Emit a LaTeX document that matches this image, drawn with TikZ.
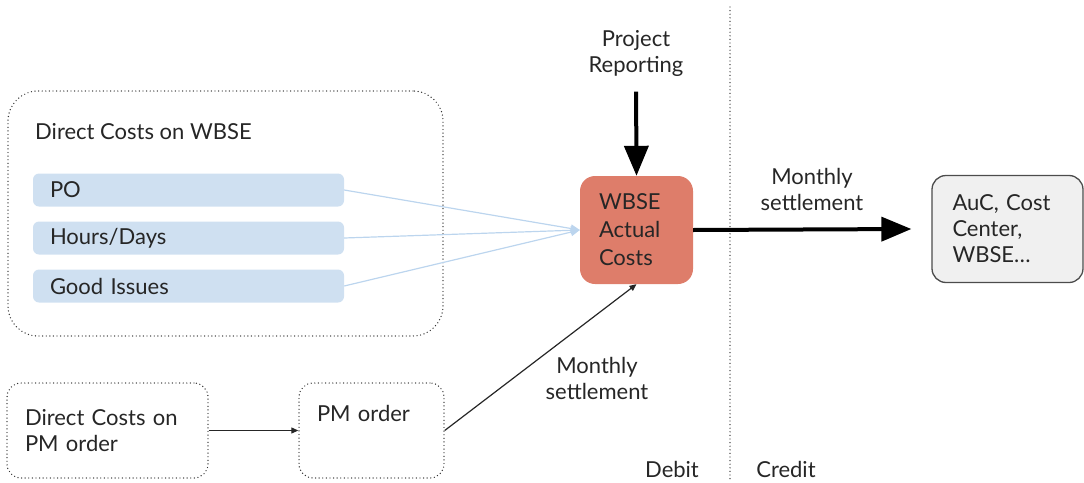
\documentclass[tikz,border=0pt]{standalone}
\usepackage{fontspec}
\setmainfont{Lato}
\usetikzlibrary{arrows.meta}

\definecolor{itemblue}{HTML}{CFE0F1}
\definecolor{flowblue}{HTML}{BCD5EE}
\definecolor{costred}{HTML}{DE7D6A}
\definecolor{targetgray}{HTML}{F0F0F0}

\begin{document}
\begin{tikzpicture}[
    x=1pt, y=-1pt,
    font=\fontsize{22}{26}\selectfont, text=black!85,
    group box/.style={draw=black!80, dash pattern=on 0pt off 3.6pt, line cap=round, line width=1.4pt, rounded corners=#1},
    group box/.default=14pt,
    cost item/.style={fill=itemblue, rounded corners=6pt, minimum width=311pt, minimum height=33pt,
        text width=277pt, inner xsep=17pt, align=left},
    actual costs/.style={fill=costred, rounded corners=15pt, minimum width=113pt, minimum height=108pt,
        text width=75pt, inner xsep=19pt, align=left, font=\fontsize{22}{28}\selectfont},
    target box/.style={fill=targetgray, draw=black!70, line width=1.3pt, rounded corners=14pt,
        minimum width=151pt, minimum height=107pt, text width=110pt, inner xsep=20pt, align=left},
    big arrow/.style={-{Triangle[length=30pt, width=24pt]}, line width=4pt, black},
    thin arrow/.style={-{Triangle[length=7pt, width=6pt]}, line width=1.2pt, black!85},
    blue arrow/.style={-{Triangle[length=9pt, width=8pt]}, line width=1.2pt, flowblue},
    divider/.style={draw=black!80, dash pattern=on 0pt off 3.6pt, line cap=round, line width=1.4pt}
]
\useasboundingbox (0,0) rectangle (1084,482);

% Direct costs on WBSE
\node[group box=30pt, minimum width=435pt, minimum height=245pt] (wbsegroup) at (225.5,213.5) {};
\node[anchor=mid west, inner sep=0pt] (wbsetitle) at (35,137) {Direct Costs on WBSE};
\node[cost item] (po) at (188.5,190) {PO};
\node[cost item] (hours) at (188.5,238) {Hours/Days};
\node[cost item] (goods) at (188.5,286) {Good Issues};

% WBSE actual costs
\node[actual costs] (wbse) at (636.5,230) {WBSE\\Actual\\Costs};
\node[align=center] (report) at (636,53) {Project\\Reporting};
\draw[big arrow, shorten <=12pt] (report.south) -- (wbse.north);

\draw[blue arrow] (po.east) -- (wbse.west);
\draw[blue arrow] (hours.east) -- (wbse.west);
\draw[blue arrow] (goods.east) -- (wbse.west);

% Debit / credit
\coordinate (divtop) at (730,7);
\coordinate (divbottom) at (730,482);
\draw[divider] (divtop) -- (divbottom);
\node (debit) at (672,469) {Debit};
\node (credit) at (786,469) {Credit};

% Settlement receiver
\node[target box] (target) at (1007.5,229) {AuC, Cost\\Center,\\WBSE\ldots};
\draw[big arrow] (wbse.east) -- ([xshift=-20pt]target.west);
\node[align=center] (settletop) at (812,189) {Monthly\\settlement};

% PM order
\node[group box, minimum width=199pt, minimum height=95pt, text width=165pt, inner xsep=18pt, align=left]
    (directpm) at (107.5,430.5) {Direct Costs on\\PM order};
\node[group box, minimum width=143pt, minimum height=95pt, text width=109pt, inner xsep=18pt, align=left]
    (pmorder) at (371.5,430.5) {PM order\\\strut};
\draw[thin arrow] (directpm.east) -- (pmorder.west);
\draw[thin arrow] (pmorder.east) -- (wbse.south);
\node[align=center] (settlebottom) at (597,378) {Monthly\\settlement};

\end{tikzpicture}
\end{document}
